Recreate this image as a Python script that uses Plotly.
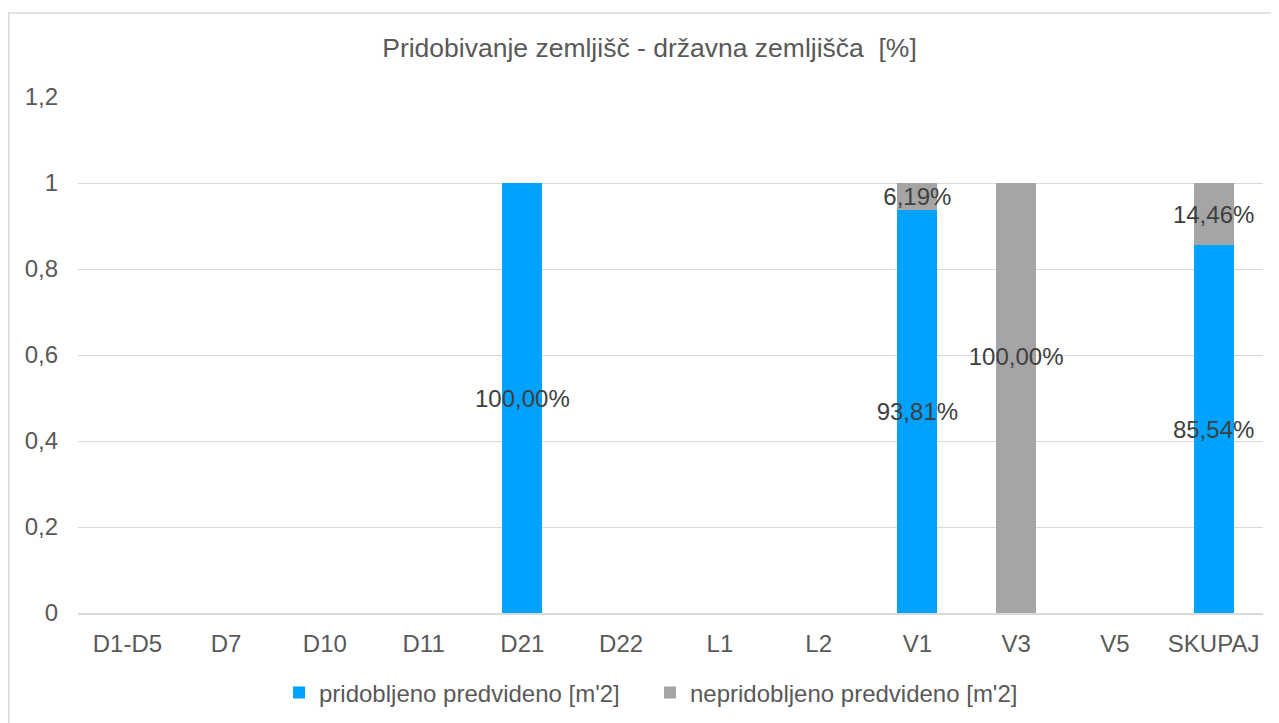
import plotly.graph_objects as go

categories = ["D1-D5", "D7", "D10", "D11", "D21", "D22", "L1", "L2", "V1", "V3", "V5", "SKUPAJ"]
pridobljeno = [0, 0, 0, 0, 1.0, 0, 0, 0, 0.9381, 0, 0, 0.8554]
nepridobljeno = [0, 0, 0, 0, 0, 0, 0, 0, 0.0619, 1.0, 0, 0.1446]
series_names = ["pridobljeno predvideno [m'2]", "nepridobljeno predvideno [m'2]"]
title_text = "Pridobivanje zemljišč - državna zemljišča  [%]"
y_ticks = [0, 0.2, 0.4, 0.6, 0.8, 1.0, 1.2]

BLUE = "#00A2FF"
GRAY = "#A5A5A5"
TXT = "#595959"
GRID = "#D9D9D9"
FONT = "Liberation Sans, Arial, sans-serif"

# label vertical nudge (in data units) for labels moved in the original chart
label_nudge = {("V3", 1): 0.098}
label_shift = -0.007

def fmt(v):
    return f"{v*100:.2f}".replace(".", ",") + "%"

fig = go.Figure()
fig.add_trace(go.Bar(x=categories, y=pridobljeno, name=series_names[0],
                     marker=dict(color=BLUE, line=dict(width=0))))
fig.add_trace(go.Bar(x=categories, y=nepridobljeno, name=series_names[1],
                     marker=dict(color=GRAY, line=dict(width=0))))

lx, ly, lt = [], [], []
for i, c in enumerate(categories):
    base = 0
    for s, vals in enumerate([pridobljeno, nepridobljeno]):
        v = vals[i]
        if v > 0:
            lx.append(c)
            ly.append(base + v / 2 + label_shift + label_nudge.get((c, s), 0))
            lt.append(fmt(v))
        base += v
fig.add_trace(go.Scatter(x=lx, y=ly, text=lt, mode="text", showlegend=False,
                         textfont=dict(size=24, color="#404040", family=FONT),
                         hoverinfo="skip", cliponaxis=False))

# page has an 8px body margin; figure coordinates = page coordinates - 8.
W, H = 1271, 715
L, R, T, B = 70, 16, 89, 110
pw = W - L - R
ph = H - T - B

fig.update_layout(
    width=W, height=H,
    margin=dict(l=L, r=R, t=T, b=B, autoexpand=False),
    paper_bgcolor="white", plot_bgcolor="white",
    barmode="stack", bargap=0.595,
    separators=",.",
    font=dict(family=FONT, color=TXT, size=24),
    title=dict(text=title_text, x=641.5 / W, xref="container", xanchor="center",
               y=1 - 40 / H, yref="container", yanchor="middle",
               font=dict(size=26.5, color=TXT, family=FONT)),
    xaxis=dict(type="category", categoryorder="array", categoryarray=categories,
               range=[-0.5, len(categories) - 0.5],
               showgrid=False, showline=True, linecolor=GRID, linewidth=1.5,
               ticks="", tickfont=dict(size=24, color=TXT), ticklabelstandoff=8,
               automargin=False, fixedrange=True),
    yaxis=dict(range=[0, 1.2], tickvals=y_ticks, showgrid=True, gridcolor=GRID,
               gridwidth=1, zeroline=False, showline=False, ticks="",
               tickfont=dict(size=24, color=TXT), ticklabelstandoff=19,
               automargin=False, fixedrange=True),
    legend=dict(orientation="h", xref="container", yref="container",
                x=271 / W, xanchor="left", y=1 - 685 / H, yanchor="middle",
                traceorder="normal",
                font=dict(size=24, color=TXT), itemwidth=30,
                entrywidth=326, entrywidthmode="pixels"),
    shapes=[dict(type="rect", xref="paper", yref="paper",
                 x0=(0.75 - L) / pw, x1=(W + 40 - L) / pw,
                 y0=-(H + 40 - T - ph) / ph, y1=(H - B - 5) / ph,
                 line=dict(color=GRID, width=1.5), fillcolor="rgba(0,0,0,0)",
                 layer="below")],
)

fig.write_html("out.html")
